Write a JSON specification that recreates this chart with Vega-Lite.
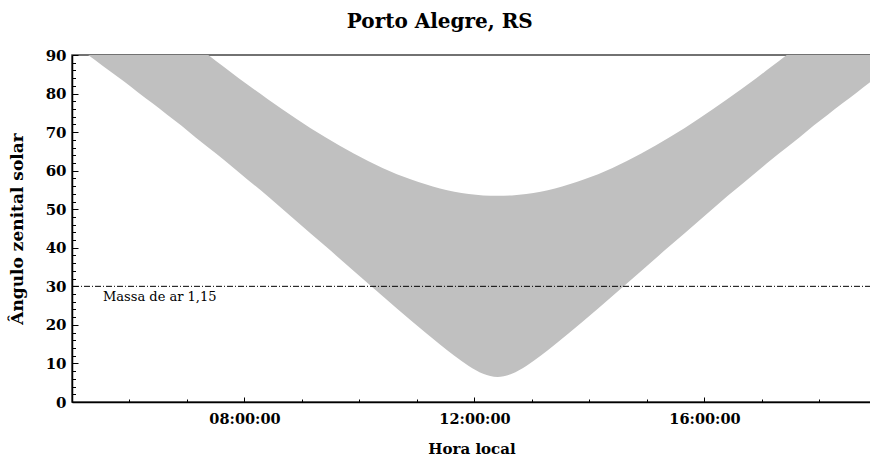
{
  "$schema": "https://vega.github.io/schema/vega-lite/v6.json",
  "width": 799,
  "height": 347,
  "autosize": {"type": "none"},
  "padding": {"left": 72, "top": 55, "right": 0, "bottom": 57},
  "background": "white",
  "title": {"text": "Porto Alegre, RS", "font": "DejaVu Serif", "fontSize": 20, "fontWeight": "bold", "color": "#000", "offset": 16, "anchor": "middle", "frame": "bounds"},
  "config": {
    "view": {"stroke": "#444", "strokeWidth": 1.5},
    "axis": {"grid": false, "domainColor": "#000", "domainWidth": 1.5, "tickColor": "#000", "tickWidth": 1, "labelFont": "DejaVu Serif", "labelFontWeight": "bold", "labelColor": "#000", "titleFont": "DejaVu Serif", "titleFontWeight": "bold", "titleColor": "#000"}
  },
  "data": {"values": [
    {"hora": 5.0, "zmin": 93.1, "zmax": 118.9},
    {"hora": 5.28, "zmin": 90, "zmax": 115.4},
    {"hora": 5.4, "zmin": 88.7, "zmax": 113.9},
    {"hora": 5.65, "zmin": 85.9, "zmax": 110.7},
    {"hora": 5.9, "zmin": 83.2, "zmax": 107.6},
    {"hora": 6.15, "zmin": 80.3, "zmax": 104.5},
    {"hora": 6.4, "zmin": 77.5, "zmax": 101.5},
    {"hora": 6.65, "zmin": 74.6, "zmax": 98.5},
    {"hora": 6.9, "zmin": 71.7, "zmax": 95.5},
    {"hora": 7.15, "zmin": 68.6, "zmax": 92.5},
    {"hora": 7.37, "zmin": 66.0, "zmax": 90},
    {"hora": 7.65, "zmin": 62.7, "zmax": 86.8},
    {"hora": 7.9, "zmin": 59.6, "zmax": 83.98},
    {"hora": 8.4, "zmin": 53.4, "zmax": 78.6},
    {"hora": 8.9, "zmin": 46.95, "zmax": 73.47},
    {"hora": 9.4, "zmin": 40.5, "zmax": 68.7},
    {"hora": 9.9, "zmin": 34.0, "zmax": 64.46},
    {"hora": 10.4, "zmin": 27.5, "zmax": 60.7},
    {"hora": 10.9, "zmin": 21.1, "zmax": 57.7},
    {"hora": 11.4, "zmin": 14.9, "zmax": 55.4},
    {"hora": 11.65, "zmin": 11.98, "zmax": 54.55},
    {"hora": 11.9, "zmin": 9.35, "zmax": 53.95},
    {"hora": 12.15, "zmin": 7.34, "zmax": 53.59},
    {"hora": 12.4, "zmin": 6.5, "zmax": 53.5},
    {"hora": 12.65, "zmin": 7.34, "zmax": 53.59},
    {"hora": 12.9, "zmin": 9.35, "zmax": 53.95},
    {"hora": 13.15, "zmin": 11.98, "zmax": 54.55},
    {"hora": 13.4, "zmin": 14.9, "zmax": 55.4},
    {"hora": 13.9, "zmin": 21.1, "zmax": 57.7},
    {"hora": 14.4, "zmin": 27.5, "zmax": 60.7},
    {"hora": 14.9, "zmin": 34.0, "zmax": 64.46},
    {"hora": 15.4, "zmin": 40.5, "zmax": 68.7},
    {"hora": 15.9, "zmin": 46.95, "zmax": 73.47},
    {"hora": 16.4, "zmin": 53.4, "zmax": 78.6},
    {"hora": 16.9, "zmin": 59.6, "zmax": 83.98},
    {"hora": 17.15, "zmin": 62.7, "zmax": 86.8},
    {"hora": 17.43, "zmin": 66.0, "zmax": 90},
    {"hora": 17.65, "zmin": 68.6, "zmax": 92.5},
    {"hora": 17.9, "zmin": 71.7, "zmax": 95.5},
    {"hora": 18.15, "zmin": 74.6, "zmax": 98.5},
    {"hora": 18.4, "zmin": 77.5, "zmax": 101.5},
    {"hora": 18.65, "zmin": 80.3, "zmax": 104.5},
    {"hora": 18.9, "zmin": 83.2, "zmax": 107.6},
    {"hora": 19.0, "zmin": 84.3, "zmax": 108.9}
  ]},
  "resolve": {"axis": {"x": "independent", "y": "independent"}},
  "layer": [
    {
      "mark": {"type": "area", "color": "#c0c0c0", "interpolate": "monotone", "clip": true},
      "encoding": {
        "x": {"field": "hora", "type": "quantitative", "scale": {"domain": [5, 18.896], "nice": false, "zero": false},
          "axis": {"orient": "bottom", "values": [8, 12, 16], "tickSize": -5, "labelExpr": "(datum.value < 10 ? '0' : '') + datum.value + ':00:00'", "labelFontSize": 14.5, "labelPadding": 15, "title": "Hora local", "titleFontSize": 15, "titlePadding": 16}},
        "y": {"field": "zmin", "type": "quantitative", "scale": {"domain": [0, 90], "nice": false, "zero": false},
          "axis": {"orient": "left", "values": [0, 10, 20, 30, 40, 50, 60, 70, 80, 90], "tickSize": -6, "labelFontSize": 15, "labelPadding": 12, "title": "Ângulo zenital solar", "titleFontSize": 17, "titlePadding": 19}},
        "y2": {"field": "zmax"}
      }
    },
    {
      "data": {"values": [{}]},
      "mark": {"type": "rule", "color": "#000", "strokeDash": [6, 2, 1, 2], "strokeWidth": 1},
      "encoding": {"y": {"datum": 30, "type": "quantitative", "axis": null}}
    },
    {
      "data": {"values": [{}]},
      "mark": {"type": "text", "font": "DejaVu Serif", "fontSize": 13, "align": "left", "baseline": "middle", "color": "#000"},
      "encoding": {
        "x": {"datum": 5.54, "type": "quantitative", "axis": {"orient": "bottom", "values": [5, 6, 7, 9, 10, 11, 13, 14, 15, 17, 18], "tickSize": -3, "labels": false, "domain": false, "title": null}},
        "y": {"datum": 27.2, "type": "quantitative", "axis": {"orient": "left", "values": [2, 4, 6, 8, 12, 14, 16, 18, 22, 24, 26, 28, 32, 34, 36, 38, 42, 44, 46, 48, 52, 54, 56, 58, 62, 64, 66, 68, 72, 74, 76, 78, 82, 84, 86, 88], "tickSize": -3.5, "labels": false, "domain": false, "title": null}},
        "text": {"value": "Massa de ar 1,15"}
      }
    }
  ]
}
